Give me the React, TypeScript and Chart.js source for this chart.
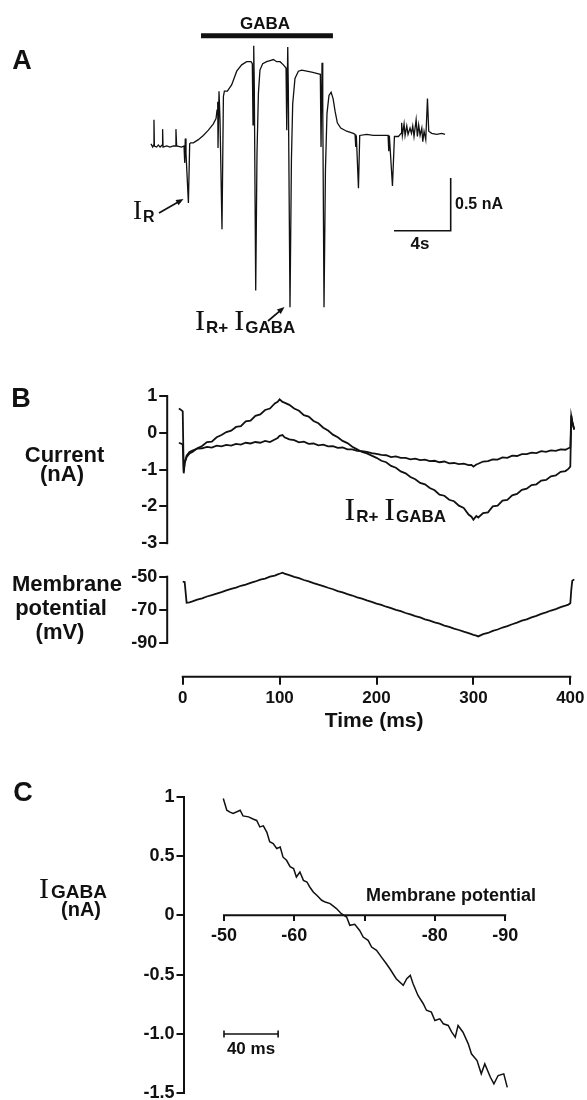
import React, { useEffect, useRef } from "react";
import { Chart, registerables } from "chart.js";

Chart.register(...registerables);

const SANS = "'Liberation Sans', Arial, sans-serif";
const SERIF = "'Liberation Serif', 'Times New Roman', serif";
const INK = "#111";

// ---------------- Panel A : current record (s, nA) ----------------
const aTime = [
  0, 0.12, 0.19, 0.21, 0.24, 0.4, 0.52, 0.64, 0.8, 0.82,
  0.85, 1.11, 1.34, 1.58, 1.74, 1.76, 1.81, 2.16, 2.33, 2.38,
  2.42, 2.47, 2.64, 2.73, 2.8, 2.99, 3.34, 3.69, 4.05, 4.4,
  4.59, 4.66, 4.71, 4.73, 4.8, 4.87, 5.01, 5.11, 5.18, 5.39,
  5.69, 6.05, 6.4, 6.75, 7.06, 7.15, 7.2, 7.25, 7.29, 7.39,
  7.48, 7.58, 7.69, 7.88, 8.16, 8.4, 8.64, 8.87, 9.11, 9.34,
  9.53, 9.58, 9.65, 9.69, 9.81, 9.91, 10.0, 10.16, 10.4, 10.64,
  10.99, 11.34, 11.69, 11.95, 12.0, 12.07, 12.12, 12.21, 12.31, 12.42,
  12.56, 12.71, 12.85, 12.99, 13.15, 13.39, 13.81, 14.28, 14.4, 14.45,
  14.49, 14.64, 14.73, 15.22, 15.69, 16.16, 16.73, 16.78, 16.82, 17.04,
  17.18, 17.46, 17.65, 17.69, 17.74, 17.86, 17.93, 18.05, 18.14, 18.28,
  18.38, 18.47, 18.56, 18.71, 18.8, 18.89, 18.99, 19.11, 19.18, 19.27,
  19.39, 19.51, 19.6, 19.81, 20.16, 20.52, 20.75,
];
const aCurrent = [
  0.02, -0.01, 0.01, 0.25, 0.0, -0.01, 0.01, -0.01, 0.01, 0.16,
  -0.01, 0, -0.01, 0, 0, 0.16, 0, -0.01, 0, -0.16,
  0.07, -0.07, -0.54, 0.02, 0.03, 0.03, 0.06, 0.1, 0.15, 0.21,
  0.26, 0.34, 0.42, -0.02, 0.52, 0.25, -0.79, 0.47, 0.52, 0.52,
  0.58, 0.71, 0.77, 0.8, 0.8, 0.78, 0.2, 0.95, 0.56, -1.37,
  -0.07, 0.5, 0.72, 0.78, 0.8, 0.81, 0.82, 0.8, 0.8, 0.77,
  0.74, 0.15, 0.94, 0.56, -1.53, -0.13, 0.4, 0.64, 0.71, 0.72,
  0.71, 0.7, 0.69, 0.68, -0.01, 0.79, 0.4, -1.53, -0.23, 0.31,
  0.48, 0.51, 0.45, 0.33, 0.22, 0.17, 0.14, 0.12, 0.11, -0.01,
  0.1, -0.4, 0.1, 0.11, 0.1, 0.1, 0.1, -0.05, 0.1, -0.38,
  0.09, 0.09, 0.12, 0.22, 0.1, 0.21, 0.1, 0.19, 0.11, 0.17,
  0.12, 0.19, 0.09, 0.25, 0.09, 0.2, 0.1, 0.17, 0.04, 0.14,
  0.06, 0.45, 0.14, 0.12, 0.11, 0.12, 0.11,
];
const aGabaBarTime = [3.53, 12.84];
const aGabaBarLevel = 1.046;
const aScaleBarTime = [17.15, 21.15, 21.15];
const aScaleBarCurrent = [-0.804, -0.804, -0.304];

// ---------------- Panel B : ramp responses (ms) ----------------
const bTime = [
  -4, -2, 0, 1, 2, 4, 7, 10,
  15, 20, 25, 30, 35, 40, 45, 50, 55, 60, 65, 70, 75, 80, 85, 90, 95,
  98, 100, 103, 105,
  110, 115, 120, 125, 130, 135, 140, 145, 150, 155, 160, 165, 170, 175, 180, 185, 190, 195, 200, 205,
  210, 215, 220, 225, 230, 235, 240, 245, 250, 255, 260, 265, 270, 275, 280, 285, 290, 295,
  298, 300, 303, 305,
  310, 315, 320, 325, 330, 335, 340, 345, 350, 355, 360, 365, 370, 375, 380, 385, 390, 395,
  398, 400, 401, 402, 404,
];
const bCurrentGaba = [
  0.66, 0.63, 0.58, -1.1, -0.82, -0.66, -0.56, -0.52,
  -0.42, -0.36, -0.25, -0.24, -0.12, -0.06, 0.02, 0.06, 0.16, 0.18, 0.31, 0.33, 0.46, 0.5, 0.62, 0.66, 0.8,
  0.84, 0.91, 0.84, 0.82,
  0.76, 0.66, 0.6, 0.48, 0.44, 0.32, 0.26, 0.14, 0.06, -0.05, -0.12, -0.22, -0.28, -0.38, -0.45, -0.52, -0.56, -0.62, -0.68, -0.76,
  -0.8, -0.9, -0.95, -1.05, -1.1, -1.2, -1.26, -1.36, -1.4, -1.5, -1.56, -1.68, -1.71, -1.82, -1.86, -1.98, -2.04, -2.22,
  -2.28, -2.36, -2.26, -2.3,
  -2.18, -2.16, -2.0, -1.98, -1.84, -1.82, -1.7, -1.66, -1.55, -1.52, -1.42, -1.4, -1.3, -1.28, -1.18, -1.16, -1.06, -1.04,
  -0.98, -0.92, 0.47, 0.3, 0.09,
];
const bCurrentControl = [
  -0.27, -0.29, -0.32, -1.05, -0.82, -0.62, -0.52, -0.48,
  -0.43, -0.42, -0.38, -0.4, -0.35, -0.37, -0.33, -0.35, -0.3, -0.32, -0.27, -0.29, -0.25, -0.27, -0.22, -0.25, -0.18,
  -0.14, -0.08, -0.06, -0.12,
  -0.18, -0.2, -0.26, -0.24, -0.3, -0.29, -0.34, -0.32, -0.37, -0.36, -0.41, -0.4, -0.45, -0.45, -0.49, -0.5, -0.52, -0.55, -0.57, -0.6,
  -0.61, -0.66, -0.64, -0.68, -0.68, -0.72, -0.7, -0.74, -0.73, -0.77, -0.76, -0.8, -0.78, -0.83, -0.82, -0.85, -0.84, -0.88,
  -0.87, -0.92, -0.86, -0.84,
  -0.78, -0.77, -0.72, -0.73, -0.67, -0.68, -0.62, -0.63, -0.58, -0.58, -0.54, -0.55, -0.5, -0.52, -0.48, -0.49, -0.45, -0.46,
  -0.42, -0.4, 0.45, 0.3, 0.09,
];
const bMembrane = [
  null, null, -53.0, -53.1, -53.2, -65.8, -65.5, -65.0,
  -63.9, -63.1, -62.0, -61.2, -60.2, -59.3, -58.3, -57.4, -56.6, -55.5, -54.8, -53.7, -52.9, -51.8, -51.1, -50.0, -49.3,
  -48.6, -48.2, -47.6, -48.1,
  -49.0, -50.1, -50.9, -52.0, -52.8, -53.9, -54.8, -55.7, -56.7, -57.6, -58.7, -59.5, -60.6, -61.4, -62.5, -63.3, -64.4, -65.2, -66.3, -67.1,
  -68.2, -69.0, -70.1, -70.9, -72.0, -72.8, -73.9, -74.7, -75.8, -76.6, -77.7, -78.5, -79.6, -80.4, -81.5, -82.3, -83.3, -84.2,
  -84.8, -85.2, -85.7, -86.2,
  -84.8, -84.1, -82.8, -82.0, -80.8, -79.9, -78.8, -77.8, -76.6, -75.8, -74.6, -73.7, -72.5, -71.6, -70.5, -69.6, -68.4, -67.5,
  -66.9, -66.1, -58.0, -52.5, -51.6,
];
const bTimeTicks = [0, 100, 200, 300, 400];
const bCurrentTicks = [1, 0, -1, -2, -3];
const bMembraneTicks = [-50, -70, -90];

// ---------------- Panel C : I-V relation ----------------
const cPotential = [
  -49.9, -50.4, -50.85, -51.3, -52.3, -52.7, -53.5, -54.2, -54.65, -55.1,
  -55.6, -56.1, -56.5, -57.0, -57.5, -58.0, -58.4, -58.9, -59.4, -59.9,
  -60.3, -60.8, -61.3, -61.8, -62.2, -62.7, -63.2, -63.9, -64.4, -65.1,
  -66.0, -66.7, -67.45, -67.9, -68.6, -69.3, -69.8, -70.5, -71.0, -71.7,
  -72.4, -73.1, -73.6, -74.5, -75.5, -76.0, -76.5, -76.9, -77.6, -78.35,
  -78.8, -79.5, -80.0, -80.7, -81.2, -81.9, -82.4, -82.9, -83.3, -84.0,
  -84.75, -85.2, -86.0, -86.6, -87.1, -87.9, -88.4, -89.0, -89.8, -90.3,
];
const cIGaba = [
  0.985, 0.886, 0.87, 0.858, 0.886, 0.838, 0.83, 0.81, 0.8, 0.745,
  0.754, 0.7, 0.62, 0.605, 0.563, 0.576, 0.49, 0.464, 0.41, 0.394,
  0.323, 0.365, 0.295, 0.281, 0.239, 0.197, 0.169, 0.127, 0.112, 0.099,
  0.057, 0.014, -0.014, -0.084, -0.076, -0.127, -0.183, -0.211, -0.267, -0.295,
  -0.352, -0.408, -0.45, -0.534, -0.59, -0.534, -0.506, -0.576, -0.675, -0.745,
  -0.8, -0.816, -0.886, -0.872, -0.914, -0.928, -0.985, -1.027, -0.928, -0.985,
  -1.083, -1.167, -1.224, -1.336, -1.252, -1.365, -1.42, -1.35, -1.336, -1.45,
];
const cPotentialTicks = [-50, -60, -70, -80, -90];
const cPotentialTickLabels = ["-50", "-60", "", "-80", "-90"];
const cCurrentTicks = [1, 0.5, 0, -0.5, -1, -1.5];
const cCurrentTickLabels = ["1", "0.5", "0", "-0.5", "-1.0", "-1.5"];
const cScaleBarPotential = [-50, -57.7];
const cScaleBarLevel = -1.0;

// ---------------- helpers ----------------
const zip = (xs: number[], ys: (number | null)[]) => xs.map((x, i) => ({ x, y: ys[i] }));
const tickFont = (size: number) => ({ family: SANS, size, weight: "bold" as const });
const fixedTicks = (vals: number[]) => (scale: any) => {
  scale.ticks = vals.map((v) => ({ value: v }));
};

function txt(ctx: CanvasRenderingContext2D, s: string, x: number, y: number, size: number, align: CanvasTextAlign = "center") {
  ctx.save();
  ctx.font = `bold ${size}px ${SANS}`;
  ctx.fillStyle = INK;
  ctx.textAlign = align;
  ctx.textBaseline = "middle";
  ctx.fillText(s, x, y);
  ctx.restore();
}

type Part = { t: string; serif?: boolean; size: number; dy?: number; gap?: number };
function subLabel(ctx: CanvasRenderingContext2D, x: number, baseline: number, parts: Part[]) {
  ctx.save();
  ctx.fillStyle = INK;
  ctx.textAlign = "left";
  ctx.textBaseline = "alphabetic";
  let cx = x;
  for (const p of parts) {
    ctx.font = p.serif ? `${p.size}px ${SERIF}` : `bold ${p.size}px ${SANS}`;
    ctx.fillText(p.t, cx, baseline + (p.dy || 0));
    cx += ctx.measureText(p.t).width + (p.gap || 0);
  }
  ctx.restore();
}

function arrow(ctx: CanvasRenderingContext2D, x1: number, y1: number, x2: number, y2: number, head = 8) {
  const a = Math.atan2(y2 - y1, x2 - x1);
  ctx.save();
  ctx.strokeStyle = INK;
  ctx.fillStyle = INK;
  ctx.lineWidth = 1.7;
  ctx.beginPath();
  ctx.moveTo(x1, y1);
  ctx.lineTo(x2 - head * 0.7 * Math.cos(a), y2 - head * 0.7 * Math.sin(a));
  ctx.stroke();
  ctx.beginPath();
  ctx.moveTo(x2, y2);
  ctx.lineTo(x2 - head * Math.cos(a - 0.38), y2 - head * Math.sin(a - 0.38));
  ctx.lineTo(x2 - head * Math.cos(a + 0.38), y2 - head * Math.sin(a + 0.38));
  ctx.closePath();
  ctx.fill();
  ctx.restore();
}

function line(ctx: CanvasRenderingContext2D, x1: number, y1: number, x2: number, y2: number, w = 2) {
  ctx.save();
  ctx.strokeStyle = INK;
  ctx.lineWidth = w;
  ctx.lineCap = "butt";
  ctx.beginPath();
  ctx.moveTo(x1, y1);
  ctx.lineTo(x2, y2);
  ctx.stroke();
  ctx.restore();
}

const decor = (id: string, draw: (ctx: CanvasRenderingContext2D, chart: any) => void) => ({
  id,
  afterDraw(chart: any) {
    draw(chart.ctx, chart);
  },
});

const traceStyle = (w: number) => ({
  borderColor: INK,
  borderWidth: w,
  pointRadius: 0,
  tension: 0,
  fill: false,
});

const baseOptions = {
  responsive: false,
  animation: false,
  events: [] as any[],
  plugins: { legend: { display: false }, tooltip: { enabled: false } },
};

// ---------------- chart builders ----------------
function buildA(): any {
  return {
    type: "line",
    data: {
      datasets: [
        { data: zip(aTime, aCurrent), ...traceStyle(1.3), clip: false },
        { data: aGabaBarTime.map((t) => ({ x: t, y: aGabaBarLevel })), ...traceStyle(5), clip: false },
        { data: zip(aScaleBarTime, aScaleBarCurrent), ...traceStyle(1.6), clip: false },
      ],
    },
    options: {
      ...baseOptions,
      layout: { padding: { left: 140, right: 117, top: 20, bottom: 30 } },
      scales: {
        x: { type: "linear", display: false, min: -0.776, max: 22.512 },
        y: { type: "linear", display: false, min: -1.556, max: 1.1954 },
      },
    },
    plugins: [
      decor("decorA", (ctx) => {
        txt(ctx, "A", 22, 62, 27);
        txt(ctx, "GABA", 265, 24, 17);
        txt(ctx, "0.5 nA", 455, 205, 16, "left");
        txt(ctx, "4s", 420, 244, 17);
        subLabel(ctx, 133, 219, [
          { t: "I", serif: true, size: 27, gap: 1 },
          { t: "R", size: 16, dy: 3 },
        ]);
        arrow(ctx, 159, 213, 183.5, 199);
        subLabel(ctx, 195, 330, [
          { t: "I", serif: true, size: 30, gap: 1 },
          { t: "R+", size: 17, dy: 3, gap: 6 },
          { t: "I", serif: true, size: 30, gap: 1 },
          { t: "GABA", size: 17, dy: 3 },
        ]);
        arrow(ctx, 268, 321, 284.5, 307);
      }),
    ],
  };
}

const tickGrid = (len: number) => ({
  display: true,
  drawOnChartArea: false,
  drawTicks: true,
  tickLength: len,
  color: INK,
  lineWidth: 2,
});

function buildB(): any {
  return {
    type: "line",
    data: {
      datasets: [
        { data: zip(bTime, bCurrentGaba), ...traceStyle(1.8), yAxisID: "yI" },
        { data: zip(bTime, bCurrentControl), ...traceStyle(1.8), yAxisID: "yI" },
        { data: zip(bTime, bMembrane), ...traceStyle(1.8), yAxisID: "yV", spanGaps: false },
      ],
    },
    options: {
      ...baseOptions,
      layout: { padding: { left: 0, right: 7, top: 40, bottom: 26.5 } },
      scales: {
        x: {
          type: "linear",
          position: "bottom",
          min: -15,
          max: 410,
          border: { display: false },
          grid: tickGrid(8),
          ticks: { font: tickFont(17), color: INK, padding: 3.6, autoSkip: false, maxRotation: 0, callback: (v: number) => String(v) },
          title: { display: true, text: "Time (ms)", font: { family: SANS, size: 21, weight: "bold" }, color: INK, padding: 0 },
          afterBuildTicks: fixedTicks(bTimeTicks),
          afterFit: (s: any) => {
            s.height = 56.8;
            s.paddingLeft = 0;
            s.paddingRight = 0;
          },
        },
        yV: {
          type: "linear",
          position: "left",
          stack: "b",
          stackWeight: 116.7,
          weight: 1,
          min: -110.6,
          max: -39.88,
          border: { display: false },
          grid: tickGrid(9),
          ticks: { font: tickFont(18), color: INK, padding: 2, autoSkip: false, callback: (v: number) => String(v) },
          afterBuildTicks: fixedTicks(bMembraneTicks),
          afterFit: (s: any) => {
            s.width = 168.2;
            s.paddingTop = 0;
            s.paddingBottom = 0;
          },
        },
        yI: {
          type: "linear",
          position: "left",
          stack: "b",
          stackWeight: 180,
          weight: 2,
          min: -3.456,
          max: 1.435,
          border: { display: false },
          grid: tickGrid(9),
          ticks: { font: tickFont(18), color: INK, padding: 2, autoSkip: false, callback: (v: number) => String(v) },
          afterBuildTicks: fixedTicks(bCurrentTicks),
          afterFit: (s: any) => {
            s.width = 168.2;
            s.paddingTop = 0;
            s.paddingBottom = 0;
          },
        },
      },
    },
    plugins: [
      decor("decorB", (ctx, chart) => {
        const { left, bottom } = chart.chartArea;
        const sI = chart.scales.yI;
        const sV = chart.scales.yV;
        const sx = chart.scales.x;
        line(ctx, left - 1, sI.getPixelForValue(1) - 1, left - 1, sI.getPixelForValue(-3) + 1);
        line(ctx, left - 1, sV.getPixelForValue(-50) - 1, left - 1, sV.getPixelForValue(-90) + 1);
        line(ctx, sx.getPixelForValue(0) - 1, bottom, sx.getPixelForValue(400) + 1, bottom);
        txt(ctx, "B", 21, 60, 27);
        txt(ctx, "Current", 64.5, 116, 22);
        txt(ctx, "(nA)", 62, 135, 22);
        txt(ctx, "Membrane", 67, 245, 22);
        txt(ctx, "potential", 61, 269, 22);
        txt(ctx, "(mV)", 60, 293, 22);
        subLabel(ctx, 344.5, 180, [
          { t: "I", serif: true, size: 32, gap: 1 },
          { t: "R+", size: 17, dy: 2, gap: 6 },
          { t: "I", serif: true, size: 32, gap: 1 },
          { t: "GABA", size: 17, dy: 2 },
        ]);
      }),
    ],
  };
}

function buildC(): any {
  return {
    type: "line",
    data: {
      datasets: [
        { data: zip(cPotential, cIGaba), ...traceStyle(1.5) },
        {
          data: cScaleBarPotential.map((v) => ({ x: v, y: cScaleBarLevel })),
          borderColor: INK,
          borderWidth: 1.6,
          tension: 0,
          pointStyle: "line",
          pointRotation: 90,
          pointRadius: 3.5,
          pointBorderWidth: 1.6,
          pointBorderColor: INK,
          clip: false,
        },
      ],
    },
    options: {
      ...baseOptions,
      layout: { padding: { left: 0, right: 27, top: 36.7, bottom: 6.7 } },
      scales: {
        x: {
          type: "linear",
          position: { y: 0 },
          reverse: true,
          min: -97.8,
          max: -44.24,
          border: { display: false },
          grid: tickGrid(6),
          ticks: {
            font: tickFont(18),
            color: INK,
            padding: 4,
            autoSkip: false,
            maxRotation: 0,
            callback: (_v: number, i: number) => cPotentialTickLabels[i],
          },
          afterBuildTicks: fixedTicks(cPotentialTicks),
          afterFit: (s: any) => {
            s.height = 0;
            s.paddingLeft = 0;
            s.paddingRight = 0;
          },
        },
        y: {
          type: "linear",
          position: "left",
          min: -1.5,
          max: 1,
          border: { display: true, color: INK, width: 2 },
          grid: tickGrid(7),
          ticks: {
            font: tickFont(18),
            color: INK,
            padding: 2,
            autoSkip: false,
            callback: (_v: number, i: number) => cCurrentTickLabels[i],
          },
          afterBuildTicks: fixedTicks(cCurrentTicks),
          afterFit: (s: any) => {
            s.width = 183.5;
            s.paddingTop = 0;
            s.paddingBottom = 0;
          },
        },
      },
    },
    plugins: [
      decor("decorC", (ctx, chart) => {
        const sx = chart.scales.x;
        const y0 = chart.scales.y.getPixelForValue(0);
        line(ctx, sx.getPixelForValue(-50) - 1, y0, sx.getPixelForValue(-90) + 1, y0);
        txt(ctx, "C", 23, 34, 27);
        subLabel(ctx, 39, 138, [
          { t: "I", serif: true, size: 30, gap: 2 },
          { t: "GABA", size: 19 },
        ]);
        txt(ctx, "(nA)", 81, 150, 20);
        txt(ctx, "Membrane potential", 451, 136, 18);
        txt(ctx, "40 ms", 251, 289, 17);
      }),
    ],
  };
}

function PanelChart({ top, height, build }: { top: number; height: number; build: () => any }) {
  const ref = useRef<HTMLCanvasElement>(null);
  useEffect(() => {
    Chart.defaults.color = INK;
    const chart = new Chart(ref.current as HTMLCanvasElement, build());
    return () => chart.destroy();
  }, []);
  return (
    <canvas
      ref={ref}
      width={587}
      height={height}
      style={{ position: "absolute", left: 0, top, width: 587, height, display: "block" }}
    />
  );
}

export default function App() {
  return (
    <div style={{ position: "absolute", left: 0, top: 0, width: 587, height: 1100, background: "#fff", overflow: "hidden" }}>
      <PanelChart top={0} height={340} build={buildA} />
      <PanelChart top={340} height={420} build={buildB} />
      <PanelChart top={760} height={340} build={buildC} />
    </div>
  );
}
